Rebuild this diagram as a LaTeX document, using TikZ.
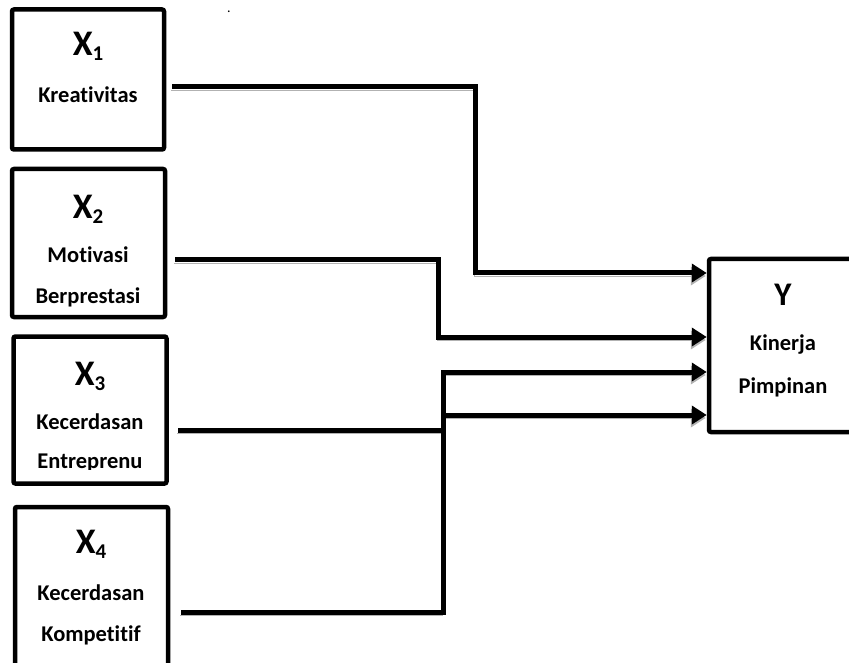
\documentclass[tikz,border=0pt]{standalone}
\usepackage{fontspec}
\setmainfont{Carlito}[Ligatures={NoCommon,NoRequired}]
\usetikzlibrary{positioning, arrows.meta}
\newcommand{\varsub}[2]{#1\raisebox{-0.14em}{\fontsize{21}{21}\selectfont #2}}
\begin{document}
\begin{tikzpicture}[
    x=1pt, y=-1pt,
    box/.style={draw, line width=4.5pt, rounded corners=2pt, inner sep=0pt},
    varname/.style={font=\fontsize{36}{36}\selectfont\bfseries},
    caption/.style={font=\fontsize{22.5}{22.5}\selectfont\bfseries},
    link/.style={line width=5pt, -{Triangle[length=15pt, width=18pt]},
        preaction={draw=gray!60, transform canvas={shift={(-1pt,-3pt)}}}}
]
\clip (0,0) rectangle (849,663);

\node[box, minimum width=152pt, minimum height=140pt] (x1) at (88,79.5) {};
    \node[box, minimum width=153pt, minimum height=148pt] (x2) at (88.5,243) {};
    \node[box, minimum width=153pt, minimum height=147pt] (x3) at (90,410) {};
    \node[box, minimum width=153pt, minimum height=170pt] (x4) at (91.5,592) {};
    \node[box, minimum width=148pt, minimum height=173pt] (y) at (783,345.5) {};

\node[varname] (x1v) at (88,46) {\varsub{X}{1}};
    \node[caption] (x1a) at (88,95) {Kreativitas};

\node[varname] (x2v) at (88,209) {\varsub{X}{2}};
    \node[caption] (x2a) at (88,255) {Motivasi};
    \node[caption] (x2b) at (88,297) {Berprestasi};

\node[varname] (x3v) at (90,376) {\varsub{X}{3}};
    \node[caption] (x3a) at (90,422) {Kecerdasan};
    \begin{scope}
    \clip (14,440) rectangle (166,469);
    \node[caption] (x3b) at (90,463) {Entreprenu};
    \end{scope}

\node[varname] (x4v) at (91,544) {\varsub{X}{4}};
    \node[caption] (x4a) at (91,593) {Kecerdasan};
    \node[caption] (x4b) at (91,635) {Kompetitif};

\node[varname, font=\fontsize{33}{33}\selectfont\bfseries] (yv) at (783,295) {Y};
    \node[caption] (ya) at (783,345) {Kinerja};
    \node[caption] (yb) at (783,387) {Pimpinan};

\node[font=\fontsize{14}{14}\selectfont] (dot) at (229,12) {.};

\coordinate (s1) at (172,87);
    \coordinate (s2) at (175,260);
    \coordinate (s3) at (178,430);
    \coordinate (s4) at (181,612);

\draw[link] (s1) -| (475,273) -- (y.west |- 0,273);
    \draw[link] (s2) -| (438,337) -- (y.west |- 0,337);
    \draw[link] (s3) -| (443,415) -- (y.west |- 0,415);
    \draw[link] (s4) -| (443,372) -- (y.west |- 0,372);
\end{tikzpicture}
\end{document}
